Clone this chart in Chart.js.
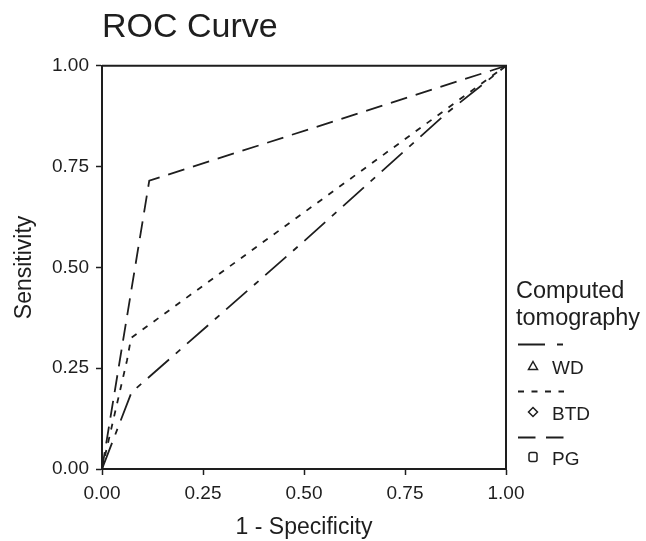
<!DOCTYPE html>
<html><head><meta charset="utf-8">
<script src="https://cdn.jsdelivr.net/npm/chart.js@4.4.1/dist/chart.umd.min.js"></script>
<style>html,body{margin:0;padding:0;background:#fff;}canvas{display:block;}</style>
</head><body>
<canvas id="c" width="646" height="541"></canvas>
<script>
// ---- data ----
const chartTitle = 'ROC Curve';
const xTitle = '1 - Specificity';
const yTitle = 'Sensitivity';
const legendTitle = ['Computed', 'tomography'];
const seriesNames = ['WD', 'BTD', 'PG'];
const tickValues = [0, 0.25, 0.5, 0.75, 1];
const tickLabels = ['0.00', '0.25', '0.50', '0.75', '1.00'];
const wdFPR = [0, 0.073, 0.5, 0.85, 1];
const wdTPR = [0, 0.19, 0.565, 0.88, 1];
const btdFPR = [0, 0.062, 0.072, 1];
const btdTPR = [0, 0.27, 0.325, 1];
const pgFPR = [0, 0.117, 1];
const pgTPR = [0, 0.715, 1];

const toPts = (xs, ys) => xs.map((x, i) => ({x: x, y: ys[i]}));
const INK = '#1e1e1e';
const FONT = '"Liberation Sans", Arial, Helvetica, sans-serif';

const dashes = [[28, 9, 6, 9], [6, 7.5], [17, 9]];
const legendDashes = [[27, 12, 6, 100], [6, 7.5], [17.5, 10.5]];
const markers = ['triangle', 'diamond', 'square'];

const frameAndLegend = {
  id: 'frameAndLegend',
  afterDraw(chart) {
    const ctx = chart.ctx, a = chart.chartArea;
    ctx.save();
    // top and right frame lines
    ctx.strokeStyle = INK; ctx.lineWidth = 2; ctx.setLineDash([]);
    ctx.beginPath();
    ctx.moveTo(a.left, a.top); ctx.lineTo(a.right, a.top); ctx.lineTo(a.right, a.bottom);
    ctx.stroke();
    // legend
    ctx.fillStyle = INK;
    ctx.textAlign = 'left'; ctx.textBaseline = 'alphabetic';
    ctx.font = '23.5px ' + FONT;
    ctx.fillText(legendTitle[0], 516, 298);
    ctx.fillText(legendTitle[1], 516, 325);
    const lineYs = [344.5, 391.5, 437.5];
    const rowYs = [366, 412, 457];
    ctx.font = '19px ' + FONT;
    seriesNames.forEach((name, i) => {
      ctx.lineWidth = 1.8; ctx.strokeStyle = INK;
      ctx.setLineDash(legendDashes[i]);
      ctx.beginPath(); ctx.moveTo(518, lineYs[i]); ctx.lineTo(564, lineYs[i]); ctx.stroke();
      ctx.setLineDash([]);
      ctx.lineWidth = 1.5;
      const cx = 533, cy = rowYs[i];
      ctx.beginPath();
      if (markers[i] === 'triangle') {
        ctx.moveTo(cx, cy - 4.5); ctx.lineTo(cx + 4.5, cy + 3.5); ctx.lineTo(cx - 4.5, cy + 3.5); ctx.closePath();
      } else if (markers[i] === 'diamond') {
        ctx.moveTo(cx, cy - 4.5); ctx.lineTo(cx + 4.5, cy); ctx.lineTo(cx, cy + 4.5); ctx.lineTo(cx - 4.5, cy); ctx.closePath();
      } else {
        const r = 2, x0 = cx - 4, y0 = cy - 4.5, w = 8, h = 9;
        ctx.moveTo(x0 + r, y0); ctx.lineTo(x0 + w - r, y0); ctx.quadraticCurveTo(x0 + w, y0, x0 + w, y0 + r);
        ctx.lineTo(x0 + w, y0 + h - r); ctx.quadraticCurveTo(x0 + w, y0 + h, x0 + w - r, y0 + h);
        ctx.lineTo(x0 + r, y0 + h); ctx.quadraticCurveTo(x0, y0 + h, x0, y0 + h - r);
        ctx.lineTo(x0, y0 + r); ctx.quadraticCurveTo(x0, y0, x0 + r, y0); ctx.closePath();
      }
      ctx.stroke();
      ctx.fillText(name, 552, rowYs[i] + 7.5);
    });
    ctx.restore();
  }
};

Chart.defaults.color = INK;
Chart.defaults.font.family = FONT;

const datasets = [
  {label: seriesNames[0], data: toPts(wdFPR, wdTPR)},
  {label: seriesNames[1], data: toPts(btdFPR, btdTPR)},
  {label: seriesNames[2], data: toPts(pgFPR, pgTPR)}
].map((d, i) => Object.assign(d, {
  borderColor: INK, borderWidth: 1.8, borderDash: dashes[i],
  pointRadius: 0, tension: 0, fill: false, showLine: true
}));

new Chart(document.getElementById('c'), {
  type: 'scatter',
  data: {datasets},
  options: {
    responsive: false,
    animation: false,
    devicePixelRatio: 1,
    layout: {padding: {top: 0, right: 140, bottom: 0, left: 0}},
    plugins: {
      legend: {display: false},
      tooltip: {enabled: false},
      title: {
        display: true, text: chartTitle, align: 'start', fullSize: false,
        color: INK, font: {size: 34, weight: 'normal', family: FONT},
        padding: {top: 7, bottom: 18}
      }
    },
    scales: {
      x: {
        type: 'linear', min: 0, max: 1,
        afterFit(s) { s.height = 72; },
        afterBuildTicks(s) { s.ticks = tickValues.map(v => ({value: v})); },
        ticks: {
          callback: (v) => tickLabels[tickValues.indexOf(v)],
          font: {size: 19}, color: INK, padding: 7, maxRotation: 0
        },
        grid: {display: true, drawOnChartArea: false, drawTicks: true, tickLength: 6, color: INK, tickWidth: 1.5},
        border: {display: true, color: INK, width: 2},
        title: {display: true, text: xTitle, font: {size: 23}, color: INK, padding: {top: 0, bottom: 0}}
      },
      y: {
        type: 'linear', min: 0, max: 1,
        afterFit(s) { s.width = 102; },
        afterBuildTicks(s) { s.ticks = tickValues.map(v => ({value: v})); },
        ticks: {
          callback: (v) => tickLabels[tickValues.indexOf(v)],
          font: {size: 19}, color: INK, padding: 7
        },
        grid: {display: true, drawOnChartArea: false, drawTicks: true, tickLength: 6, color: INK, tickWidth: 1.5},
        border: {display: true, color: INK, width: 2},
        title: {display: true, text: yTitle, font: {size: 23}, color: INK, padding: {top: 11, bottom: 0}}
      }
    }
  },
  plugins: [frameAndLegend]
});
</script>
</body></html>
